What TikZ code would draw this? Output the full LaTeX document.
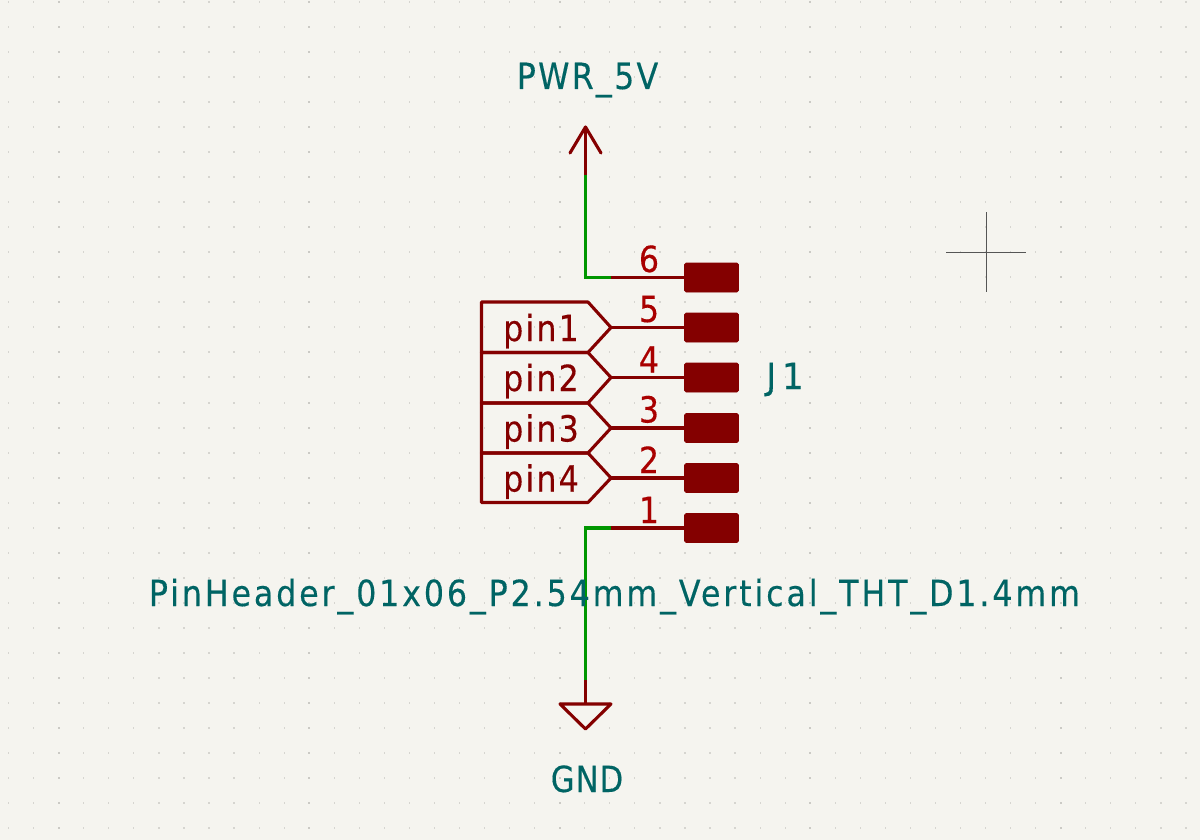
\documentclass[tikz,border=0pt]{standalone}
\usepackage{fontspec}
\setmainfont{DejaVu Sans}
\newfontfamily\schfont[FakeStretch=0.88,LetterSpace=8,FakeBold=0.3]{DejaVu Sans}
\newfontfamily\pwrfont[FakeStretch=0.88,LetterSpace=6.3,FakeBold=0.3]{DejaVu Sans}
\newfontfamily\gndfont[FakeStretch=0.85,LetterSpace=3,FakeBold=0.3]{DejaVu Sans}
\newfontfamily\jfont[FakeStretch=0.95,LetterSpace=16,FakeBold=0.3]{DejaVu Sans}
\newfontfamily\pinfont[FakeStretch=0.88,LetterSpace=6,FakeBold=0.3]{DejaVu Sans}
\definecolor{paper}{HTML}{F5F4EF}
\definecolor{teal}{HTML}{006464}
\definecolor{wiregreen}{HTML}{009600}
\definecolor{pinred}{HTML}{840000}
\definecolor{numred}{HTML}{A90000}
\definecolor{griddot}{HTML}{D6D5D0}
\definecolor{griddotb}{HTML}{CBCAC5}
\definecolor{cursor}{HTML}{555555}
\tikzset{
  x=1pt,y=-1pt,
  wire/.style={draw=wiregreen,line width=3.1pt,line join=miter},
  pinline/.style={draw=pinred,line width=3.1pt,line cap=round,line join=round},
  padbox/.style={fill=pinred,draw=pinred,line width=0.6pt,rounded corners=1.5pt,minimum width=54pt,minimum height=29pt,inner sep=0pt,anchor=center},
  tealtext/.style={text=teal,inner sep=0pt,anchor=base},
  numtext/.style={text=numred,inner sep=0pt,anchor=base,font=\pinfont\fontsize{36}{40}\selectfont},
  pintext/.style={text=pinred,inner sep=0pt,anchor=base,font=\pinfont\fontsize{36}{40}\selectfont},
}
\begin{document}
\begin{tikzpicture}
\useasboundingbox (0,0) rectangle (1200,840);
\fill[paper] (0,0) rectangle (1200,840);
% grid
\foreach \i in {0,...,47}{
  \pgfmathsetmacro{\gx}{8.6+25.05*\i}
  \pgfmathtruncatemacro{\ismaj}{mod(\i,10)==2 ? 1 : 0}
  \foreach \j in {0,...,33}{
    \pgfmathsetmacro{\gy}{1.7+25.05*\j}
    \ifnum\ismaj=1
      \fill[griddotb] (\gx-1,\gy-1) rectangle (\gx+1,\gy+1);
    \else
      \fill[griddot] (\gx-0.6,\gy-1) rectangle (\gx+0.6,\gy+1);
    \fi
  }
}
% anchors
\coordinate (pwrtip) at (585.5,127);
\coordinate (pwrl) at (570,153);
\coordinate (pwrr) at (601,153);
\coordinate (pwrend) at (585.5,175);
\coordinate (c6) at (585.5,277.5);
\coordinate (w6) at (611,277.5);
\coordinate (c1) at (585.5,528);
\coordinate (w1) at (611,528);
\coordinate (gndtop) at (585.5,680);
\coordinate (gndbar) at (585.5,704);
\coordinate (gndl) at (560,704);
\coordinate (gndr) at (611,704);
\coordinate (gndtip) at (585.5,729);
\coordinate (t5) at (611,327.5);
\coordinate (t4) at (611,377.5);
\coordinate (t3) at (611,428);
\coordinate (t2) at (611,478);
% wires
\draw[wire] (pwrend) -- (c6) -- (w6);
\draw[wire] (w1) -- (c1) -- (gndtop);
% pads
\node[padbox] (pad6) at (711.5,277.5) {};
\node[padbox] (pad5) at (711.5,327.5) {};
\node[padbox] (pad4) at (711.5,377.5) {};
\node[padbox] (pad3) at (711.5,428) {};
\node[padbox] (pad2) at (711.5,478) {};
\node[padbox] (pad1) at (711.5,528) {};
% pin stubs
\draw[pinline,line cap=butt] (w6) -- (pad6.west);
\draw[pinline] (t5) -- (pad5.west);
\draw[pinline] (t4) -- (pad4.west);
\draw[pinline] (t3) -- (pad3.west);
\draw[pinline] (t2) -- (pad2.west);
\draw[pinline,line cap=butt] (w1) -- (pad1.west);
% power symbols
\draw[pinline,line cap=butt] (pwrend) -- (pwrtip);
\draw[pinline] (pwrl) -- (pwrtip) -- (pwrr);
\draw[pinline,line cap=butt] (gndtop) -- (gndbar);
\draw[pinline] (gndl) -- (gndr) -- (gndtip) -- cycle;
% hierarchical labels
\draw[pinline] (481.5,302) -- (588,302) -- (t5) -- (588,352.5) -- (481.5,352.5) -- cycle;
\draw[pinline] (481.5,352.5) -- (588,352.5) -- (t4) -- (588,403) -- (481.5,403) -- cycle;
\draw[pinline] (481.5,403) -- (588,403) -- (t3) -- (588,453) -- (481.5,453) -- cycle;
\draw[pinline] (481.5,453) -- (588,453) -- (t2) -- (588,502.5) -- (481.5,502.5) -- cycle;
% labels
\node[pintext] (lab1) at (541,341) {pin1};
\node[pintext] (lab2) at (541,391) {pin2};
\node[pintext] (lab3) at (541,441.5) {pin3};
\node[pintext] (lab4) at (541,491.5) {pin4};
\node[numtext] (n6) at (649,272) {6};
\node[numtext] (n5) at (649,322) {5};
\node[numtext] (n4) at (649,372.5) {4};
\node[numtext] (n3) at (649,422.5) {3};
\node[numtext] (n2) at (649,473) {2};
\node[numtext] (n1) at (649,523) {1};
\node[tealtext,font=\pwrfont\fontsize{36}{40}\selectfont] (pwr) at (587.5,89) {PWR\_5V};
\node[tealtext,font=\gndfont\fontsize{36}{40}\selectfont] (gnd) at (587,792) {GND};
\node[tealtext,font=\jfont\fontsize{36}{40}\selectfont] (j1) at (785,389) {J1};
\node[tealtext,font=\schfont\fontsize{36}{40}\selectfont] (fp) at (614.5,606) {PinHeader\_01x06\_P2.54mm\_Vertical\_THT\_D1.4mm};
% cursor
\coordinate (curl) at (946,252);
\coordinate (curr) at (1026,252);
\coordinate (curt) at (986,212);
\coordinate (curb) at (986,292);
\draw[cursor,line width=0.8pt] (curl) -- (curr);
\draw[cursor,line width=0.8pt] (curt) -- (curb);
\end{tikzpicture}
\end{document}
